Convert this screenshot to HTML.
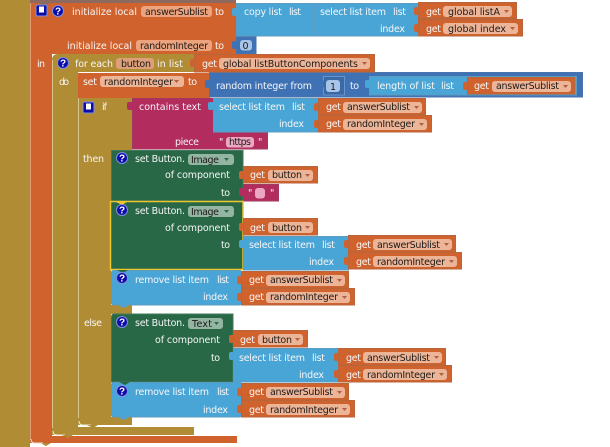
<!DOCTYPE html>
<html><head><meta charset="utf-8"><style>
html,body{margin:0;padding:0;background:#fff;width:610px;height:447px;overflow:hidden}
svg{display:block}
text{font-family:"DejaVu Sans","Liberation Sans",sans-serif;font-size:9.5px;fill:#f6f6f6}
.d{fill:#1e1a18}
.q{font-family:"Liberation Sans",sans-serif;font-weight:bold;font-size:10px;fill:#fff;text-anchor:middle}
.o{fill:#D0622E;stroke:#B9653C}
.b{fill:#49A5D6;stroke:#5B9CC0}
.n{fill:#3F71B5;stroke:#4A74AE}
.m{fill:#B32C5E;stroke:#A03A60}
.g{fill:#296846;stroke:#3F7A5C}
.y{fill:#B08D35}
.fo{fill:#EDB598}
.fg{fill:#93B5A2}
.fm{fill:#EBA8C0}
.fb{fill:#A8C4E8}
.t{fill:#B0603C}
</style></head><body>
<svg width="610" height="447" viewBox="0 0 610 447" xmlns="http://www.w3.org/2000/svg">
<defs>
<g id="h"><circle r="6" fill="#7F8FE0"/><circle r="5" fill="#0C0CA8"/></g>
<g id="gA"><rect x="-4" y="5" width="5" height="8" rx="2" fill="#D0622E"/><rect x=".5" y=".5" width="107" height="16.5" class="o"/><rect x="25" y="4" width="79" height="11" rx="3" class="fo"/><path d="M96 8h5l-2.500 3z" class="t"/></g>
<g id="gR"><rect x="-4" y="5" width="5" height="8" rx="2" fill="#D0622E"/><rect x=".5" y=".5" width="113" height="16.500" class="o"/><rect x="25" y="4" width="84" height="11" rx="3" class="fo"/><path d="M101 8h5l-2.500 3z" class="t"/></g>
<g id="gB"><rect x="-4" y="5" width="5" height="8" rx="2" fill="#D0622E"/><rect x=".5" y=".5" width="74" height="16.500" class="o"/><rect x="25" y="4" width="45" height="11" rx="3" class="fo"/><path d="M62 8h5l-2.500 3z" class="t"/></g>
</defs>

<rect width="610" height="447" fill="#fff"/>
<rect x="0" y="0" width="30" height="447" class="y"/>

<!-- orange initialize local -->
<rect x="30" y="0" width="206" height="54" fill="#D0622E"/>
<rect x="30" y="0" width="22" height="436" fill="#D0622E"/>
<rect x="30" y="436" width="207" height="7" fill="#D0622E"/>
<path d="M40 443h11l-5 3z" fill="#B08D35"/>
<rect x="30" y="0" width="1" height="440" fill="#E29A78"/>
<rect x="30" y="0" width="206" height="3" fill="#8D6A60"/>
<path d="M39 3h11l-5 3z" fill="#8D6A60"/>
<path d="M31 439q0 4 4 4h8" fill="none" stroke="#F0D8C8"/>

<!-- for each -->
<path d="M52 60q0-6 6-6H195v18H78V435H52z" class="y"/>
<rect x="52" y="427" width="142" height="8" class="y"/>
<rect x="52" y="60" width="1" height="368" fill="#D8C48A"/>
<path d="M53 431q0 4 4 4h8" fill="none" stroke="#F0E8D0"/>
<path d="M62 435h11l-5 3z" fill="#B08D35"/>

<!-- set -->
<rect x="78" y="73" width="132" height="25" fill="#D0622E"/>

<!-- if -->
<rect x="78" y="98" width="54" height="52" class="y"/>
<rect x="78" y="98" width="33" height="327" class="y"/>
<rect x="78" y="305" width="54" height="9" class="y"/>
<rect x="78" y="417" width="54" height="8" class="y"/>
<rect x="78" y="98" width="1" height="320" fill="#D8C48A"/>
<path d="M79 421q0 4 4 4h8" fill="none" stroke="#F0E8D0"/>
<path d="M87 425h11l-5 3z" fill="#B08D35"/>

<!-- contains text -->
<rect x="132.500" y="98.500" width="81" height="50.500" class="m"/>
<rect x="213.500" y="132.500" width="54" height="16.500" class="m"/>
<rect x="213.500" y="98.500" width="105" height="33.500" class="b"/>
<rect x="226" y="137" width="28" height="10.500" rx="3" class="fm"/>

<!-- top right blue -->
<rect x="236.500" y="3.500" width="78" height="32.500" class="b"/>
<rect x="314.500" y="3.500" width="104" height="32.500" class="b"/>
<rect x="236.500" y="37" width="19.500" height="16.500" class="n"/>
<rect x="240" y="40" width="12" height="10.500" rx="3" class="fb"/>

<!-- random integer -->
<rect x="209.500" y="72.500" width="373" height="24.500" class="n"/>
<rect x="323.500" y="76.500" width="21" height="18.500" fill="#3A69A8" stroke="#6B93C6"/>
<rect x="326" y="80" width="14" height="12" rx="3" class="fb"/>
<rect x="369.500" y="76.500" width="207" height="18.500" class="b"/>

<!-- set Button 1 -->
<rect x="111.500" y="150.500" width="131.500" height="50.500" class="g"/>
<rect x="243.500" y="184.500" width="35" height="16.500" class="m"/>
<rect x="255" y="188" width="10" height="10.500" rx="3" class="fm"/>
<!-- set Button 2 -->
<rect x="110.500" y="201.500" width="132.500" height="68" fill="#296846" stroke="#EFC42C" stroke-width="1.500"/>
<path d="M116 202h11l-5 3z" fill="#EFC42C"/>
<rect x="243.500" y="236.500" width="105" height="33.500" class="b"/>
<!-- remove 1 -->
<rect x="111.500" y="270.500" width="130" height="34.500" rx="2" class="b"/>
<path d="M118 305h11l-5 3z" fill="#49A5D6"/>
<path d="M117 270h11l-5 3z" fill="#296846"/>
<!-- else set -->
<path d="M111.500 382V317q0-3 3-3H233v68z" class="g"/>
<rect x="233.500" y="348.500" width="105" height="33.500" class="b"/>
<!-- remove 2 -->
<rect x="111.500" y="382.500" width="130" height="34.500" rx="2" class="b"/>
<path d="M118 417h11l-5 3z" fill="#49A5D6"/>
<path d="M119 382h11l-5 3z" fill="#296846"/>

<!-- small notches -->
<rect x="232" y="8" width="5" height="8" rx="2" fill="#49A5D6"/>
<rect x="232" y="41" width="5" height="8" rx="2" fill="#3F71B5"/>
<rect x="205" y="80" width="5" height="8" rx="2" fill="#3F71B5"/>
<rect x="127" y="102" width="6" height="8" rx="2" fill="#B32C5E"/>
<rect x="208" y="102" width="6" height="8" rx="2" fill="#49A5D6"/>
<rect x="208" y="136" width="6" height="8" rx="2" fill="#B32C5E"/>
<rect x="319" y="80" width="5" height="8" rx="2" fill="#3F71B5"/>
<rect x="365" y="80" width="5" height="8" rx="2" fill="#49A5D6"/>
<rect x="239" y="188" width="5" height="8" rx="2" fill="#B32C5E"/>
<rect x="239" y="240" width="5" height="8" rx="2" fill="#49A5D6"/>
<rect x="229" y="352" width="5" height="8" rx="2" fill="#49A5D6"/>

<!-- get blocks -->
<g transform="translate(418,2)"><rect x="-4" y="5" width="5" height="8" rx="2" fill="#D0622E"/><rect x=".5" y=".5" width="98" height="16" class="o"/><rect x="25" y="4" width="69" height="11" rx="3" class="fo"/><path d="M86 8h5l-2.500 3z" class="t"/><text x="8" y="13" textLength="15">get</text><text class="d" x="30" y="13" textLength="52">global listA</text></g>
<g transform="translate(418,19)"><rect x="-4" y="5" width="5" height="8" rx="2" fill="#D0622E"/><rect x=".5" y=".5" width="104" height="16.500" class="o"/><rect x="25" y="4" width="75" height="11" rx="3" class="fo"/><path d="M92 8h5l-2.500 3z" class="t"/><text x="8" y="13" textLength="15">get</text><text class="d" x="30" y="13" textLength="58">global index</text></g>
<g transform="translate(194,54)"><rect x="-4" y="5" width="5" height="8" rx="2" fill="#D0622E"/><rect x=".5" y=".5" width="180" height="17.500" class="o"/><rect x="25" y="4" width="151" height="11" rx="3" class="fo"/><path d="M168 8h5l-2.500 3z" class="t"/><text x="8" y="13" textLength="15">get</text><text class="d" x="29" y="13" textLength="135">global listButtonComponents</text></g>

<use href="#gA" x="467" y="77"/><text x="474" y="89" textLength="15">get</text><text class="d" x="496" y="89" textLength="63">answerSublist</text>
<use href="#gA" x="318" y="98"/><text x="326" y="110" textLength="15">get</text><text class="d" x="347" y="110" textLength="63">answerSublist</text>
<use href="#gR" x="318" y="115"/><text x="326" y="127" textLength="15">get</text><text class="d" x="347" y="127" textLength="68">randomInteger</text>

<use href="#gB" x="243" y="166"/><text x="250" y="178" textLength="15">get</text><text class="d" x="272" y="178" textLength="30">button</text>
<use href="#gB" x="243" y="218"/><text x="250" y="231" textLength="15">get</text><text class="d" x="272" y="231" textLength="30">button</text>
<use href="#gA" x="348" y="235"/><text x="356" y="248" textLength="15">get</text><text class="d" x="377" y="248" textLength="63">answerSublist</text>
<use href="#gR" x="348" y="252"/><text x="356" y="265" textLength="15">get</text><text class="d" x="377" y="265" textLength="68">randomInteger</text>
<use href="#gA" x="241" y="271"/><text x="249" y="283" textLength="15">get</text><text class="d" x="270" y="283" textLength="63">answerSublist</text>
<use href="#gR" x="241" y="288"/><text x="249" y="300" textLength="15">get</text><text class="d" x="270" y="300" textLength="68">randomInteger</text>

<use href="#gB" x="233" y="330"/><text x="240" y="343" textLength="15">get</text><text class="d" x="262" y="343" textLength="30">button</text>
<use href="#gA" x="338" y="348"/><text x="346" y="361" textLength="15">get</text><text class="d" x="367" y="361" textLength="63">answerSublist</text>
<use href="#gR" x="338" y="365"/><text x="346" y="378" textLength="15">get</text><text class="d" x="367" y="378" textLength="68">randomInteger</text>
<use href="#gA" x="241" y="383"/><text x="249" y="395" textLength="15">get</text><text class="d" x="270" y="395" textLength="63">answerSublist</text>
<use href="#gR" x="241" y="400"/><text x="249" y="413" textLength="15">get</text><text class="d" x="270" y="413" textLength="68">randomInteger</text>

<!-- fields -->
<rect x="141" y="6" width="71" height="11" rx="3" fill="#EDA47E"/>
<rect x="136" y="40" width="76" height="11" rx="3" fill="#EDA47E"/>
<rect x="116" y="58" width="38" height="11" rx="3" fill="#DDA07A"/>
<rect x="100" y="76" width="84" height="11" rx="3" class="fo"/>
<path d="M174 80h5l-2.500 3z" class="t"/>
<rect x="188" y="154" width="46" height="11" rx="3" class="fg"/><path d="M224 158h5l-2.500 3z" fill="#2F6A4C"/>
<rect x="188" y="206" width="46" height="11" rx="3" class="fg"/><path d="M224 210h5l-2.500 3z" fill="#2F6A4C"/>
<rect x="188" y="318" width="35" height="11" rx="3" class="fg"/><path d="M214 322h5l-2.500 3z" fill="#2F6A4C"/>

<!-- labels -->
<text x="72" y="15" textLength="65">initialize local</text>
<text class="d" x="145" y="15" textLength="63">answerSublist</text>
<text x="215" y="15" textLength="9">to</text>
<text x="244" y="15" textLength="38">copy list</text>
<text x="289" y="15" textLength="12">list</text>
<text x="320" y="15" textLength="66">select list item</text>
<text x="393" y="15" textLength="13">list</text>
<text x="380" y="32" textLength="25">index</text>

<text x="67" y="49" textLength="65">initialize local</text>
<text class="d" x="140" y="49" textLength="68">randomInteger</text>
<text x="215" y="49" textLength="9">to</text>
<text class="d" x="242.500" y="49" textLength="7">0</text>

<text x="37" y="67" textLength="8">in</text>
<text x="75" y="67" textLength="38">for each</text>
<text class="d" x="121" y="67" textLength="30">button</text>
<text x="157" y="67" textLength="26">in list</text>

<text x="59" y="85" textLength="10">do</text>
<text x="83" y="85" textLength="14">set</text>
<text class="d" x="104" y="85" textLength="69">randomInteger</text>
<text x="188" y="85" textLength="9">to</text>
<text x="216" y="89" textLength="96">random integer from</text>
<text class="d" x="330" y="90" textLength="6">1</text>
<text x="350" y="89" textLength="9">to</text>
<text x="377" y="89" textLength="58">length of list</text>
<text x="441" y="89" textLength="13">list</text>

<text x="102" y="110" textLength="5">if</text>
<text x="139" y="110" textLength="62">contains text</text>
<text x="219" y="110" textLength="66">select list item</text>
<text x="292" y="110" textLength="13">list</text>
<text x="279" y="127" textLength="25">index</text>
<text x="175" y="145" textLength="24">piece</text>
<text x="219" y="145" textLength="4">"</text>
<text class="d" x="229" y="145" textLength="22">https</text>
<text x="258" y="145" textLength="4">"</text>

<text x="83" y="162" textLength="21">then</text>
<text x="135" y="162" textLength="50">set Button.</text>
<text class="d" x="191" y="163" textLength="28">Image</text>
<text x="165" y="178" textLength="65">of component</text>
<text x="221" y="196" textLength="9">to</text>
<text x="248" y="196" textLength="4">"</text>
<text x="270" y="196" textLength="4">"</text>

<text x="135" y="214" textLength="50">set Button.</text>
<text class="d" x="191" y="215" textLength="28">Image</text>
<text x="165" y="231" textLength="65">of component</text>
<text x="221" y="248" textLength="9">to</text>
<text x="249" y="248" textLength="66">select list item</text>
<text x="322" y="248" textLength="13">list</text>
<text x="309" y="265" textLength="25">index</text>

<text x="135" y="283" textLength="74">remove list item</text>
<text x="217" y="283" textLength="12">list</text>
<text x="203" y="300" textLength="25">index</text>

<text x="84" y="326" textLength="18">else</text>
<text x="135" y="326" textLength="50">set Button.</text>
<text class="d" x="192" y="327" textLength="20">Text</text>
<text x="155" y="343" textLength="65">of component</text>
<text x="211" y="361" textLength="9">to</text>
<text x="239" y="361" textLength="66">select list item</text>
<text x="312" y="361" textLength="13">list</text>
<text x="299" y="378" textLength="25">index</text>

<text x="135" y="395" textLength="74">remove list item</text>
<text x="217" y="395" textLength="12">list</text>
<text x="203" y="413" textLength="25">index</text>

<!-- help icons -->
<use href="#h" x="58" y="11"/><text class="q" x="58" y="14.500">?</text>
<use href="#h" x="63" y="63"/><text class="q" x="63" y="66.500">?</text>
<use href="#h" x="122" y="158"/><text class="q" x="122" y="161.500">?</text>
<use href="#h" x="122" y="210"/><text class="q" x="122" y="213.500">?</text>
<use href="#h" x="122" y="278"/><text class="q" x="122" y="281.500">?</text>
<use href="#h" x="122" y="322"/><text class="q" x="122" y="325.500">?</text>
<use href="#h" x="122" y="391"/><text class="q" x="122" y="394.500">?</text>

<!-- mutator icons -->
<rect x="36" y="5" width="11" height="11" rx="1.500" fill="#0C0CA8" stroke="#7F8FE0"/><rect x="39" y="6.500" width="5" height="6" fill="#fff"/>
<rect x="83" y="102" width="11" height="11" rx="1.500" fill="#0C0CA8" stroke="#7F8FE0"/><rect x="86" y="103.500" width="5" height="6" fill="#fff"/>
</svg>
</body></html>
